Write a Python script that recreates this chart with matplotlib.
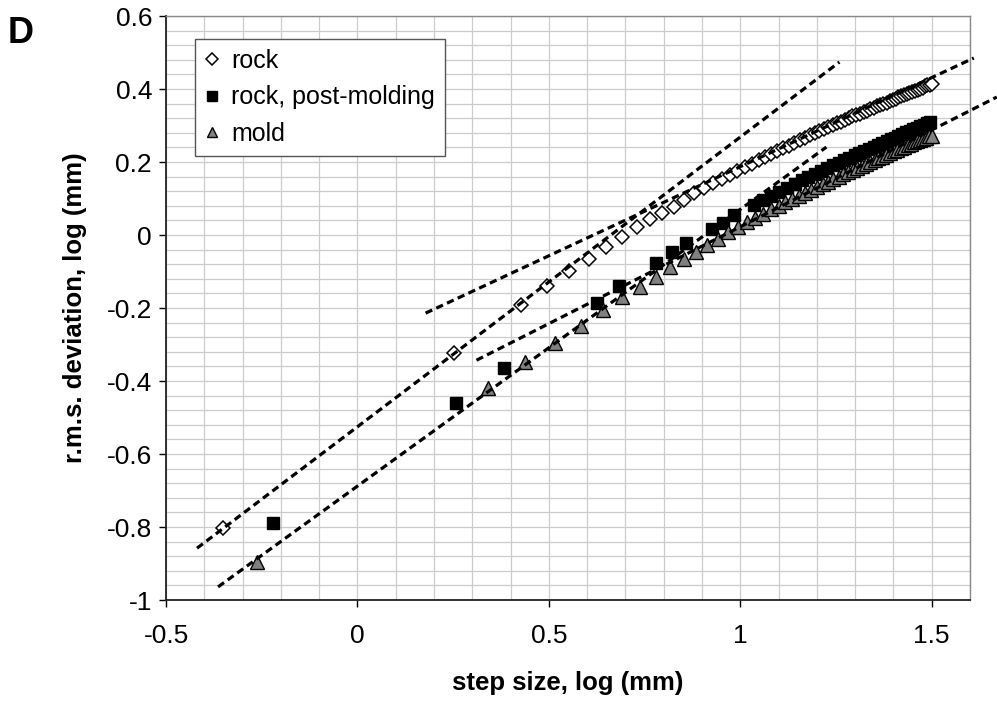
import matplotlib.pyplot as plt
import numpy as np

plt.rcParams['font.family'] = ['Liberation Sans', 'DejaVu Sans']

# rock (open diamonds)
rock_x = [-0.350, 0.252, 0.428, 0.495, 0.553, 0.604, 0.650, 0.691, 0.729, 0.764,
          0.796, 0.826, 0.854, 0.880, 0.905, 0.929, 0.951, 0.972, 0.992, 1.012,
          1.030, 1.048, 1.065, 1.081, 1.097, 1.112, 1.127, 1.141, 1.155, 1.169,
          1.181, 1.194, 1.206, 1.218, 1.230, 1.241, 1.252, 1.263, 1.273, 1.283,
          1.293, 1.303, 1.313, 1.322, 1.331, 1.340, 1.349, 1.358, 1.366, 1.374,
          1.382, 1.390, 1.398, 1.406, 1.413, 1.421, 1.428, 1.435, 1.442, 1.449,
          1.456, 1.463, 1.470, 1.476, 1.483, 1.489, 1.495, 1.501]
rock_y = [-0.803, -0.323, -0.192, -0.140, -0.099, -0.066, -0.033, -0.005, 0.022, 0.044,
          0.060, 0.077, 0.096, 0.115, 0.129, 0.142, 0.154, 0.165, 0.176, 0.186,
          0.196, 0.205, 0.214, 0.222, 0.230, 0.238, 0.245, 0.253, 0.260, 0.267,
          0.273, 0.279, 0.285, 0.291, 0.296, 0.301, 0.306, 0.311, 0.316, 0.320,
          0.325, 0.329, 0.333, 0.337, 0.341, 0.345, 0.349, 0.353, 0.356, 0.360,
          0.363, 0.367, 0.370, 0.374, 0.377, 0.380, 0.383, 0.386, 0.389, 0.392,
          0.395, 0.398, 0.401, 0.404, 0.407, 0.410, 0.412, 0.415]

# rock, post-molding (black squares)
post_x = [-0.220, 0.257, 0.382, 0.625, 0.683, 0.780, 0.821, 0.859, 0.926, 0.956,
          0.984, 1.035, 1.059, 1.081, 1.102, 1.122, 1.142, 1.160, 1.178, 1.195,
          1.211, 1.227, 1.242, 1.257, 1.271, 1.285, 1.299, 1.311, 1.324, 1.336,
          1.348, 1.360, 1.371, 1.382, 1.393, 1.403, 1.413, 1.423, 1.433, 1.443,
          1.452, 1.461, 1.470, 1.479, 1.488, 1.496]
post_y = [-0.789, -0.460, -0.364, -0.186, -0.140, -0.077, -0.046, -0.022, 0.016, 0.033,
          0.055, 0.082, 0.095, 0.107, 0.118, 0.129, 0.140, 0.150, 0.159, 0.168,
          0.176, 0.184, 0.191, 0.198, 0.205, 0.212, 0.218, 0.224, 0.230, 0.236,
          0.241, 0.247, 0.252, 0.257, 0.262, 0.267, 0.272, 0.276, 0.281, 0.285,
          0.290, 0.294, 0.298, 0.302, 0.306, 0.310]

# mold (grey triangles)
mold_x = [-0.262, 0.340, 0.437, 0.516, 0.583, 0.641, 0.692, 0.738, 0.779, 0.817,
          0.852, 0.884, 0.914, 0.942, 0.968, 0.993, 1.017, 1.039, 1.060, 1.080,
          1.100, 1.118, 1.136, 1.153, 1.169, 1.185, 1.200, 1.215, 1.229, 1.243,
          1.257, 1.269, 1.282, 1.294, 1.306, 1.318, 1.329, 1.340, 1.351, 1.361,
          1.371, 1.381, 1.391, 1.401, 1.410, 1.419, 1.428, 1.437, 1.446, 1.454,
          1.462, 1.470, 1.478, 1.486, 1.494, 1.501]
mold_y = [-0.896, -0.419, -0.348, -0.296, -0.249, -0.205, -0.170, -0.142, -0.115, -0.088,
          -0.066, -0.047, -0.028, -0.010, 0.007, 0.022, 0.036, 0.048, 0.059, 0.070,
          0.080, 0.090, 0.099, 0.108, 0.116, 0.124, 0.132, 0.139, 0.146, 0.153,
          0.160, 0.166, 0.172, 0.178, 0.184, 0.190, 0.195, 0.200, 0.206, 0.211,
          0.215, 0.220, 0.225, 0.229, 0.234, 0.238, 0.242, 0.246, 0.250, 0.254,
          0.257, 0.261, 0.264, 0.267, 0.270, 0.270]

# dashed trend lines (end points)
rock_fit_small_x = [-0.419, 1.259]
rock_fit_small_y = [-0.858, 0.474]
rock_fit_large_x = [0.178, 1.610]
rock_fit_large_y = [-0.214, 0.485]
mold_fit_small_x = [-0.364, 1.225]
mold_fit_small_y = [-0.964, 0.241]
mold_fit_large_x = [0.311, 1.670]
mold_fit_large_y = [-0.343, 0.378]

x_ticks = [-0.5, 0, 0.5, 1, 1.5]
x_labels = ['-0.5', '0', '0.5', '1', '1.5']
y_ticks = [-1, -0.8, -0.6, -0.4, -0.2, 0, 0.2, 0.4, 0.6]
y_labels = ['-1', '-0.8', '-0.6', '-0.4', '-0.2', '0', '0.2', '0.4', '0.6']

fig = plt.figure(figsize=(9.97, 7.04), dpi=100)
ax = fig.add_axes([0.1665, 0.1477, 0.8064, 0.8295])

ax.plot(rock_x, rock_y, linestyle='none', marker='D', markersize=7.5,
        markerfacecolor='white', markeredgecolor='black', markeredgewidth=1.1,
        label='rock', zorder=3)
ax.plot(post_x, post_y, linestyle='none', marker='s', markersize=9,
        markerfacecolor='black', markeredgecolor='black', markeredgewidth=1,
        label='rock, post-molding', zorder=3)
ax.plot(mold_x, mold_y, linestyle='none', marker='^', markersize=9.5,
        markerfacecolor='#808080', markeredgecolor='black', markeredgewidth=1,
        label='mold', zorder=3)

dash = (0, (2.3, 1.4))
for fx, fy in [(rock_fit_small_x, rock_fit_small_y), (rock_fit_large_x, rock_fit_large_y),
               (mold_fit_small_x, mold_fit_small_y), (mold_fit_large_x, mold_fit_large_y)]:
    ax.plot(fx, fy, color='black', linestyle=dash, linewidth=2.3, clip_on=False, zorder=4)

ax.set_xlim(-0.5, 1.6)
ax.set_ylim(-1, 0.6)
ax.set_xticks(x_ticks)
ax.set_xticklabels(x_labels)
ax.set_yticks(y_ticks)
ax.set_yticklabels(y_labels)
ax.set_xticks(np.arange(-0.5, 1.65, 0.1), minor=True)
ax.set_yticks(np.arange(-1, 0.62, 0.04), minor=True)
ax.grid(which='both', color='#cccccc', linewidth=0.9, zorder=0)
ax.set_axisbelow(True)
ax.tick_params(which='minor', length=0)
ax.tick_params(which='major', direction='out', length=5, width=1, labelsize=19,
               colors='black')
ax.tick_params(axis='x', pad=12)
ax.tick_params(axis='y', pad=5)

for side in ['left', 'bottom']:
    ax.spines[side].set_color('#222222')
    ax.spines[side].set_linewidth(1.3)
for side in ['top', 'right']:
    ax.spines[side].set_color('#888888')
    ax.spines[side].set_linewidth(1.0)

ax.set_xlabel('step size, log (mm)', fontsize=18.5, fontweight='bold', labelpad=17)
ax.set_ylabel('r.m.s. deviation, log (mm)', fontsize=18.5, fontweight='bold', labelpad=14)

leg = ax.legend(loc='upper left', bbox_to_anchor=(0.036, 0.961), fontsize=18,
                frameon=True, fancybox=False, framealpha=1, edgecolor='#555555',
                handlelength=0.6, handletextpad=0.45, labelspacing=0.5,
                borderpad=0.4, borderaxespad=0, markerscale=0.8)
leg.get_frame().set_linewidth(1.0)

fig.text(0.008, 0.977, 'D', fontsize=26, fontweight='bold', va='top', ha='left')

fig.savefig('out.png', dpi=100)
